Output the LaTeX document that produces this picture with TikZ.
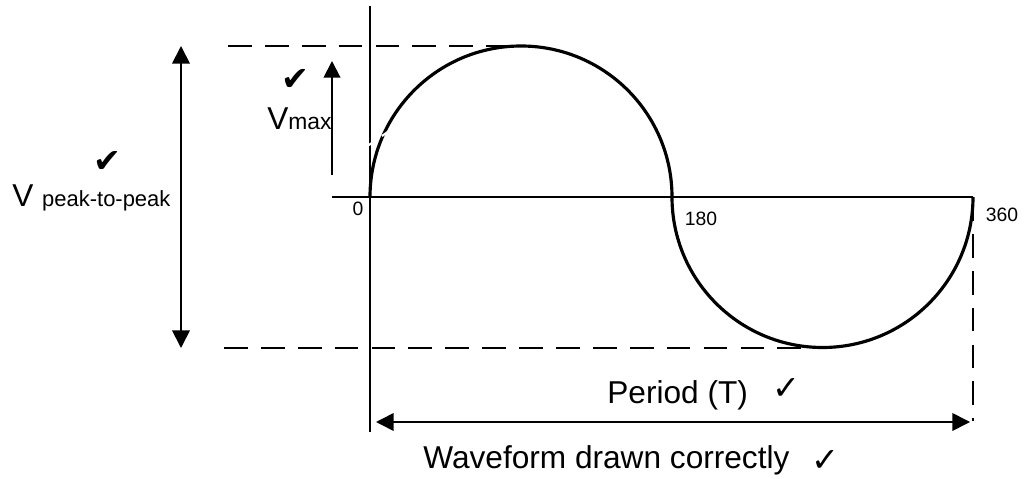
\documentclass[tikz,border=0pt]{standalone}
\usepackage{fontspec}
\setmainfont{Liberation Sans}
\newfontfamily\checkfont{DejaVu Sans}
\usetikzlibrary{positioning, arrows.meta}

\begin{document}
\begin{tikzpicture}[x=0.02cm, y=-0.02cm, line join=round,
    axis/.style={black, line width=1.7pt},
    wave/.style={black, line width=1.8pt},
    guide/.style={black, line width=1.6pt, dash pattern=on 13.5pt off 7.5pt},
    dim/.style={black, line width=1pt, {Triangle[length=10pt, width=10pt]}-{Triangle[length=10pt, width=10pt]}},
    lbl/.style={inner sep=0pt, font=\fontsize{18}{18}\selectfont},
    deg/.style={inner sep=0pt, font=\fontsize{11}{11}\selectfont},
    tick/.style={inner sep=0pt, font=\checkfont\fontsize{19}{19}\selectfont}]

    \useasboundingbox (0,0) rectangle (1024,479);

    % Axes
    \coordinate (o) at (370,197);
    \coordinate (xstart) at (332,197);
    \coordinate (xend) at (973,197);
    \coordinate (ytop) at (370,6);
    \coordinate (ybot) at (370,432);
    \draw[axis] (xstart) -- (xend);
    \draw[axis] (ytop) -- (ybot);

    % Guide lines (dashed)
    \coordinate (peak) at (521,46);
    \coordinate (trough) at (822,348);
    \coordinate (topleft) at (228,46);
    \coordinate (botleft) at (224,348);
    \coordinate (endlow) at (973,421);
    \draw[guide] (topleft) -- (peak);
    \draw[guide] (botleft) -- (trough);
    \draw[guide] (xend) -- (endlow);

    % Sine wave, two half circles
    \draw[wave] (o) arc[start angle=180, end angle=360, radius=151]
        arc[start angle=180, end angle=0, radius=150.5];
    \draw[white, line width=1.2pt, dash pattern=on 5pt off 6pt] (366,147) -- (408,118);

    % Dimension arrows
    \coordinate (pptop) at (181,46);
    \coordinate (ppbot) at (181,348);
    \draw[dim] (pptop) -- (ppbot);

    \coordinate (vmaxlow) at (332,175);
    \coordinate (vmaxtop) at (332,61);
    \draw[black, line width=1.1pt, -{Triangle[length=9.5pt, width=9.5pt]}] (vmaxlow) -- (vmaxtop);

    \coordinate (tleft) at (376,422);
    \coordinate (tright) at (970,422);
    \draw[dim, line width=0.9pt] (tleft) -- (tright);

    % Labels
    \node[lbl, anchor=base west] (vpp) at (12,207)
        {V \fontsize{12.5}{12.5}\selectfont peak-to-peak};
    \node[tick] (vppchk) at (107,162) {✔};
    \node[lbl, anchor=base west] (vmax) at (267,130)
        {V\fontsize{13}{13}\selectfont max};
    \node[tick] (vmaxchk) at (295,80) {✔};

    \node[deg] (zero) at (358,209) {0};
    \node[deg] (half) at (701,219) {180};
    \node[deg] (full) at (1002,215) {360};

    \node[lbl, anchor=base west] (period) at (607,403) {Period (T)};
    \node[tick] (periodchk) at (786,389) {✓};
    \node[lbl, anchor=base west] (caption) at (423,468) {Waveform drawn correctly};
    \node[tick] (captionchk) at (825,461) {✓};
\end{tikzpicture}
\end{document}
